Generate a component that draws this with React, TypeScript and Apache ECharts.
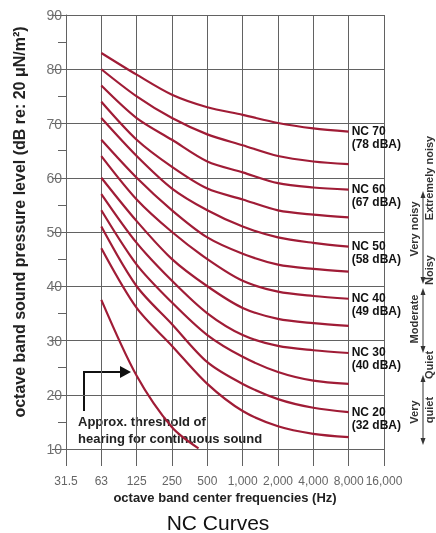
import React, { useEffect, useRef } from "react";
import * as echarts from "echarts";

const freqLabels = ["31.5", "63", "125", "250", "500", "1,000", "2,000", "4,000", "8,000", "16,000"];
// values at 63,125,250,500,1000,2000,4000,8000 Hz (x index 1..8)
const nc15 = [47, 36, 29, 22, 17, 14.2, 12.8, 12.2];
const nc20 = [51, 40, 33, 26, 22, 19.2, 17.6, 16.8];
const nc25 = [54, 44, 37, 31, 27, 24.2, 22.6, 22];
const nc30 = [57, 48, 41, 35, 31, 29, 28.2, 27.7];
const nc35 = [60, 52, 45, 40, 36, 34, 33.2, 32.7];
const nc40 = [64, 56, 50, 45, 41, 39, 38.2, 37.7];
const nc45 = [67, 60, 54, 49, 46, 44, 43.2, 42.7];
const nc50 = [71, 64, 58, 54, 51, 49, 48, 47.3];
const nc55 = [74, 67, 62, 58, 56, 54, 53.2, 52.7];
const nc60 = [77, 71, 67, 63, 61, 59, 58.2, 57.8];
const nc65 = [80, 75, 71, 68, 66, 64, 63, 62.5];
const nc70 = [83, 79, 75.3, 73, 71.6, 70.1, 69.1, 68.5];
const ncLevels = [15, 20, 25, 30, 35, 40, 45, 50, 55, 60, 65, 70];
const ncCurves = [nc15, nc20, nc25, nc30, nc35, nc40, nc45, nc50, nc55, nc60, nc65, nc70];
const labeledLevels = [70, 60, 50, 40, 30, 20];
const labeledDba = [78, 67, 58, 49, 40, 32];
// threshold of hearing: [x index, dB]
const thresholdX = [1, 2, 3, 3.75];
const thresholdY = [37.5, 23.5, 14, 10.1];

const RED = "#a01c36";
const GRID = "#626262";
const FONT = "Liberation Sans, Arial, sans-serif";

export default function App() {
  const ref = useRef<HTMLDivElement>(null);
  useEffect(() => {
    if (!ref.current) return;
    const chart = echarts.init(ref.current, null, { renderer: "svg" });
    const series: any[] = ncCurves.map((vals, i) => {
      const level = ncLevels[i];
      const li = labeledLevels.indexOf(level);
      return {
        type: "line",
        name: "NC " + level,
        data: vals.map((v, k) => [k + 1, v]),
        smooth: 0.3,
        symbol: "none",
        lineStyle: { color: RED, width: 2.2 },
        silent: true,
        endLabel: {
          show: li >= 0,
          formatter: li >= 0 ? `NC ${level}\n(${labeledDba[li]} dBA)` : "",
          fontFamily: FONT,
          fontSize: 12,
          fontWeight: "bold",
          color: "#111",
          lineHeight: 13,
          distance: 3,
          align: "left",
          verticalAlign: "top",
          offset: [0, -7],
        },
      };
    });
    series.push({
      type: "line",
      name: "threshold",
      data: thresholdX.map((x, k) => [x, thresholdY[k]]),
      smooth: 0.3,
      symbol: "none",
      lineStyle: { color: RED, width: 2.2 },
      silent: true,
    });

    const arrowV = (x: number, y1: number, y2: number) => [
      { type: "line", shape: { x1: x, y1: y1 + 5, x2: x, y2: y2 - 5 }, style: { stroke: "#333", lineWidth: 1 } },
      { type: "polygon", shape: { points: [[x - 2.5, y1 + 7], [x, y1], [x + 2.5, y1 + 7]] }, style: { fill: "#333" } },
      { type: "polygon", shape: { points: [[x - 2.5, y2 - 7], [x, y2], [x + 2.5, y2 - 7]] }, style: { fill: "#333" } },
    ];
    const vtext = (x: number, y: number, text: string) => ({
      type: "text",
      x,
      y,
      rotation: Math.PI / 2,
      style: {
        text,
        fontFamily: FONT,
        fontSize: 11,
        fontWeight: "bold",
        fill: "#333",
        align: "center",
        verticalAlign: "middle",
      },
    });

    chart.setOption({
      animation: false,
      grid: { left: 66, right: 52, top: 15, bottom: 84 },
      xAxis: {
        type: "value",
        min: 0,
        max: 9,
        interval: 1,
        axisLine: { show: true, lineStyle: { color: GRID, width: 1 } },
        axisTick: { show: true, length: 17, lineStyle: { color: GRID, width: 1 } },
        splitLine: { show: true, lineStyle: { color: GRID, width: 1 } },
        axisLabel: {
          margin: 26,
          fontFamily: FONT,
          fontSize: 12,
          color: "#666",
          formatter: (v: number) => freqLabels[Math.round(v)] ?? "",
        },
      },
      yAxis: {
        type: "value",
        min: 10,
        max: 90,
        interval: 10,
        axisLine: { show: true, lineStyle: { color: GRID, width: 1 } },
        axisTick: { show: true, length: 14, lineStyle: { color: GRID, width: 1 } },
        minorTick: { show: true, splitNumber: 2, length: 8, lineStyle: { color: GRID, width: 1 } },
        splitLine: { show: true, lineStyle: { color: GRID, width: 1 } },
        axisLabel: { margin: 4, fontFamily: FONT, fontSize: 14, color: "#707070" },
      },
      title: {
        text: "NC Curves",
        left: "center",
        top: 512,
        textStyle: { fontFamily: FONT, fontSize: 21, fontWeight: "normal", color: "#111" },
        padding: 0,
      },
      graphic: [
        {
          type: "text",
          x: 19,
          y: 222,
          rotation: Math.PI / 2,
          style: {
            text: "octave band sound pressure level (dB re: 20 μN/m²)",
            fontFamily: FONT,
            fontSize: 16,
            fontWeight: "bold",
            fill: "#222",
            align: "center",
            verticalAlign: "middle",
          },
        },
        {
          type: "text",
          x: 225,
          y: 497,
          style: {
            text: "octave band center frequencies (Hz)",
            fontFamily: FONT,
            fontSize: 13,
            fontWeight: "bold",
            fill: "#222",
            align: "center",
            verticalAlign: "middle",
          },
        },
        {
          type: "text",
          x: 78,
          y: 413,
          style: {
            text: "Approx. threshold of\nhearing for continuous sound",
            fontFamily: FONT,
            fontSize: 13,
            fontWeight: "bold",
            fill: "#222",
            lineHeight: 17,
            align: "left",
            verticalAlign: "top",
          },
        },
        {
          type: "polyline",
          shape: { points: [[84, 411], [84, 372], [122, 372]] },
          style: { stroke: "#111", lineWidth: 2, fill: null },
        },
        {
          type: "polygon",
          shape: { points: [[120, 366], [131, 372], [120, 378]] },
          style: { fill: "#111" },
        },
        vtext(429, 178, "Extremely noisy"),
        vtext(414, 229, "Very noisy"),
        vtext(429, 270, "Noisy"),
        vtext(414, 319, "Moderate"),
        vtext(429, 365, "Quiet"),
        vtext(414, 412, "Very"),
        vtext(429, 410, "quiet"),
        ...arrowV(423, 191, 284),
        ...arrowV(423, 288, 353),
        ...arrowV(423, 375, 445),
      ],
      series,
    });
    return () => chart.dispose();
  }, []);
  return <div ref={ref} style={{ position: "fixed", left: 0, top: 0, width: 436, height: 533 }} />;
}
